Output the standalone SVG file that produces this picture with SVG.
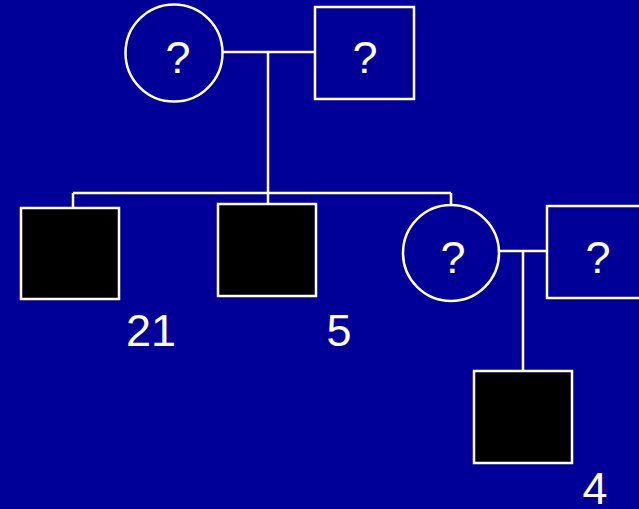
<svg xmlns="http://www.w3.org/2000/svg" width="639" height="509" viewBox="0 0 639 509">
<style>
.ln{stroke:#fff;stroke-width:2.5;fill:none}
.open{fill:#000099;stroke:#fff;stroke-width:2.5}
.aff{fill:#000;stroke:#fff;stroke-width:2.5}
.t{font-family:"Liberation Sans",Arial,sans-serif;font-size:45px;fill:#fff;text-anchor:middle}
</style>
<rect x="0" y="0" width="639" height="509" fill="#000099"/>
<g id="connectors">
<path class="ln" d="M222 52H315M268 52V193M73 193H451M73 193V208M268 193V204M451 193V205M499 251H547M523 251V371"/>
</g>
<g id="gm"><circle class="open" cx="174" cy="53" r="48.5"/><text class="t" x="178" y="73">?</text></g>
<g id="gf"><rect class="open" x="315" y="7" width="99" height="92"/><text class="t" x="365" y="73">?</text></g>
<g id="s1"><rect class="aff" x="21" y="208" width="98" height="91"/><text class="t" x="151" y="346">21</text></g>
<g id="s2"><rect class="aff" x="218" y="204" width="98" height="92"/><text class="t" x="339" y="346">5</text></g>
<g id="d"><circle class="open" cx="451" cy="253" r="48"/><text class="t" x="453" y="273">?</text></g>
<g id="h"><rect class="open" x="547" y="206" width="100" height="92"/><text class="t" x="598" y="273">?</text></g>
<g id="c"><rect class="aff" x="474" y="371" width="98" height="92"/><text class="t" x="595" y="504">4</text></g>
</svg>
